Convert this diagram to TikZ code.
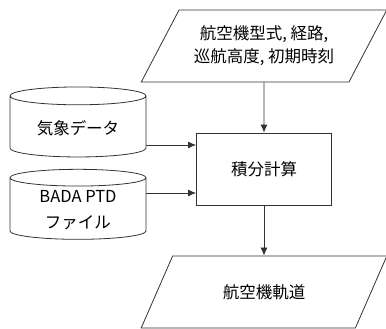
\documentclass[tikz,border=0pt]{standalone}
\usepackage{fontspec}
\setmainfont{Noto Sans CJK JP}
\usetikzlibrary{shapes, arrows.meta}
\tikzstyle{inout} = [trapezium, trapezium left angle=55, trapezium right angle=125, trapezium stretches=true, minimum width=246pt, minimum height=72pt, align=center, draw=black!80, line width=0.8pt, font=\fontsize{16.5}{23}\selectfont]
\tikzstyle{process} = [rectangle, minimum width=135pt, minimum height=72pt, text centered, draw=black!80, line width=0.8pt, font=\fontsize{16.5}{23}\selectfont]
\tikzstyle{store} = [cylinder, shape border rotate=90, aspect=0.2, minimum width=136pt, minimum height=70pt, align=center, draw=black!80, line width=0.8pt, font=\fontsize{16.5}{26}\selectfont]
\tikzstyle{edge} = [-{Latex[length=8pt, width=7pt]}, draw=black!80, line width=0.8pt]

\begin{document}
\begin{tikzpicture}[x=1pt, y=-1pt, node distance=123pt]
\useasboundingbox (0,0) rectangle (386,329);

\node (0) [process] at (264,169) {積分計算};
\node (1) [inout, above of=0] {航空機型式, 経路,\\巡航高度, 初期時刻};
\node (2) [inout, below of=0] {航空機軌道};
\node (3) [store, left of=0, node distance=186pt, yshift=41pt] {気象データ};
\node (4) [store, left of=0, node distance=186pt, yshift=-41pt] {BADA PTD\\ファイル};

\draw [edge] (1) -- (0);
\draw [edge] (0) -- (2);
\draw [edge] ([yshift=-17pt]3.east) -- ([yshift=-17pt]3.east -| 0.west);
\draw [edge] ([yshift=17pt]4.east) -- ([yshift=17pt]4.east -| 0.west);

\end{tikzpicture}
\end{document}
